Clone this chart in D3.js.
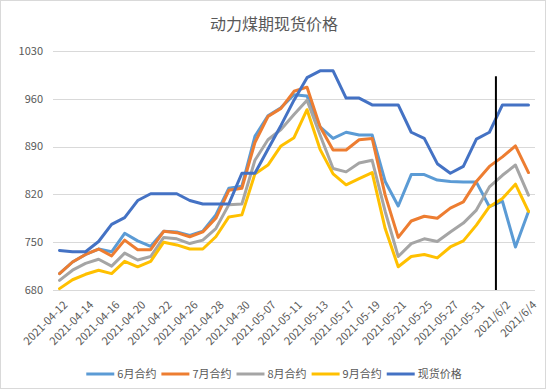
<!DOCTYPE html>
<html lang="zh">
<head>
  <meta charset="UTF-8">
  <title>动力煤期现货价格</title>
  <style>
    body {
      margin: 0;
      padding: 0;
      background: #fff;
      font-family: "Noto Sans CJK SC", "Noto Sans", sans-serif;
    }

    svg {
      display: block;
    }

    .grid line {
      stroke: #d9d9d9;
      stroke-width: 1px;
    }

    .tick-label {
      fill: #595959;
      font-size: 11px;
    }

    .series {
      fill: none;
      stroke-width: 3px;
      stroke-linejoin: round;
      stroke-linecap: round;
    }
  </style>
</head>
<body>
  <svg width="550" height="390"></svg>

  <script src="https://d3js.org/d3.v7.min.js"></script>
  <script>
    const width = 550, height = 390;

    // categories (trading days)
    const dates = [
      "2021-04-12", "2021-04-13", "2021-04-14", "2021-04-15", "2021-04-16",
      "2021-04-19", "2021-04-20", "2021-04-21", "2021-04-22", "2021-04-23",
      "2021-04-26", "2021-04-27", "2021-04-28", "2021-04-29", "2021-04-30",
      "2021-05-06", "2021-05-07", "2021-05-10", "2021-05-11", "2021-05-12",
      "2021-05-13", "2021-05-14", "2021-05-17", "2021-05-18", "2021-05-19",
      "2021-05-20", "2021-05-21", "2021-05-24", "2021-05-25", "2021-05-26",
      "2021-05-27", "2021-05-28", "2021-05-31", "2021/6/1", "2021/6/2",
      "2021/6/3", "2021/6/4"
    ];

    const june = [704, 721, 732, 740, 736, 763, 752, 744, 766, 765, 760, 766, 790, 829, 832,
      905, 935, 947, 966, 964, 919, 902, 911, 907, 907, 839, 803, 849, 849, 841,
      839, 838, 838, 802, 810, 743, 795];
    const july = [704, 721, 732, 740, 730, 753, 739, 739, 766, 764, 758, 765, 785, 826, 829,
      896, 934, 946, 971, 977, 919, 885, 885, 900, 902, 819, 757, 781, 788, 785,
      800, 809, 839, 861, 875, 891, 852];
    const august = [694, 709, 719, 725, 715, 734, 724, 729, 757, 755, 748, 753, 770, 805, 806,
      870, 900, 915, 937, 958, 907, 858, 853, 866, 870, 795, 729, 748, 755, 751,
      765, 778, 797, 831, 848, 863, 819];
    const september = [682, 695, 703, 709, 704, 722, 714, 722, 750, 746, 740, 740, 758, 787, 790,
      850, 863, 891, 903, 944, 886, 850, 834, 843, 852, 770, 714, 729, 732, 727,
      743, 752, 775, 802, 814, 835, 795];
    const spot = [738, 736, 736, 751, 776, 786, 811, 821, 821, 821, 811, 806, 806, 806, 851,
      851, 886, 921, 958, 991, 1001, 1001, 961, 961, 951, 951, 951, 911, 902, 865,
      851, 861, 901, 911, 951, 951, 951];

    const seriesNames = ["6月合约", "7月合约", "8月合约", "9月合约", "现货价格"];
    const seriesValues = [june, july, august, september, spot];
    const colors = ["#5b9bd5", "#ed7d31", "#a5a5a5", "#ffc000", "#4472c4"];

    const yTicks = [680, 750, 820, 890, 960, 1030];

    // marker line between 6/1 and 6/2
    const markerAfter = "2021/6/1";
    const markerTop = 993;

    const svg = d3.select("svg");

    svg.append("rect")
      .attr("x", 0.5).attr("y", 0.5)
      .attr("width", width - 5).attr("height", height - 2)
      .attr("fill", "#fff")
      .attr("stroke", "#d9d9d9");

    const margin = { left: 53, right: 15, top: 51, bottom: 100 };

    const x = d3.scaleBand()
      .domain(dates)
      .range([margin.left, width - margin.right]);

    const y = d3.scaleLinear()
      .domain([680, 1030])
      .range([height - margin.bottom, margin.top]);

    const cx = d => x(d) + x.bandwidth() / 2;

    svg.append("text")
      .attr("x", 274)
      .attr("y", 30)
      .attr("text-anchor", "middle")
      .attr("fill", "#595959")
      .attr("font-size", "16px")
      .text("动力煤期现货价格");

    // gridlines
    svg.append("g")
      .attr("class", "grid")
      .selectAll("line")
      .data(yTicks)
      .join("line")
      .attr("x1", margin.left)
      .attr("x2", width - margin.right)
      .attr("y1", d => Math.round(y(d)) + 0.5)
      .attr("y2", d => Math.round(y(d)) + 0.5);

    svg.append("g")
      .selectAll("text")
      .data(yTicks)
      .join("text")
      .attr("class", "tick-label")
      .attr("x", 43)
      .attr("y", d => y(d))
      .attr("dy", "0.35em")
      .attr("text-anchor", "end")
      .text(d => d);

    // x labels, every other category
    svg.append("g")
      .selectAll("text")
      .data(dates.filter((d, i) => i % 2 === 0))
      .join("text")
      .attr("class", "tick-label")
      .attr("text-anchor", "end")
      .attr("transform", d => `translate(${cx(d) + 6},${y(680) + 13}) rotate(-45)`)
      .attr("dy", "0.35em")
      .text(d => d);

    const line = d3.line()
      .x((d, i) => cx(dates[i]))
      .y(d => y(d));

    svg.append("g")
      .selectAll("path")
      .data(seriesValues)
      .join("path")
      .attr("class", "series")
      .attr("stroke", (d, i) => colors[i])
      .attr("d", line);

    // vertical marker
    const mx = x(markerAfter) + x.bandwidth();
    svg.append("line")
      .attr("x1", mx).attr("x2", mx)
      .attr("y1", y(markerTop))
      .attr("y2", y(680))
      .attr("stroke", "#000")
      .attr("stroke-width", 2);

    // legend
    const legend = svg.append("g");
    let lx = 0;
    seriesNames.forEach((name, i) => {
      const item = legend.append("g").attr("transform", `translate(${lx},0)`);
      item.append("line")
        .attr("x1", 0).attr("x2", 28)
        .attr("y1", 0).attr("y2", 0)
        .attr("stroke", colors[i])
        .attr("stroke-width", 3);
      const t = item.append("text")
        .attr("class", "tick-label")
        .attr("x", 31)
        .attr("dy", "0.35em")
        .text(name);
      lx += 31 + t.node().getComputedTextLength() + 5;
    });
    legend.attr("transform", `translate(${274 - (lx - 5) / 2},374)`);
  </script>
</body>
</html>
